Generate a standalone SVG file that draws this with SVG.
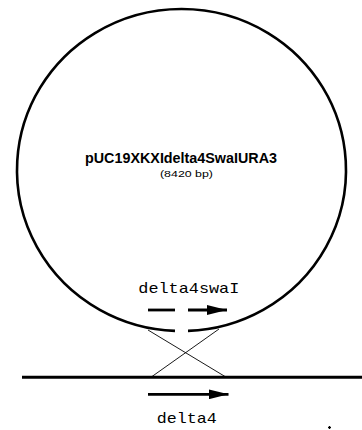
<svg xmlns="http://www.w3.org/2000/svg" width="362" height="430" viewBox="0 0 362 430">
  <style>
    .thick { fill: none; stroke: #000; stroke-width: 2.6; }
    .thin { fill: none; stroke: #000; stroke-width: 0.9; }
    .shaft { fill: none; stroke: #000; stroke-width: 2.8; }
    .mono { font-family: "Liberation Mono", "DejaVu Sans Mono", monospace; font-size: 15px; fill: #000; }
    .sans { font-family: "Liberation Sans", Arial, sans-serif; fill: #000; }
  </style>
  <defs>
    <marker id="head" markerWidth="20" markerHeight="10" refX="20" refY="5" orient="auto" markerUnits="userSpaceOnUse">
      <path d="M0,0 L20,5 L0,10 Z" fill="#000"/>
    </marker>
  </defs>
  <rect width="362" height="430" fill="#fff"/>

  <g id="plasmid">
    <path class="thick" d="M 188 330.9 A 164.5 161 0 1 0 175 330.9"/>
    <text class="sans" x="181" y="163.3" font-size="14" font-weight="bold" text-anchor="middle" textLength="192" lengthAdjust="spacingAndGlyphs">pUC19XKXIdelta4SwaIURA3</text>
    <text class="sans" x="186.5" y="176.7" font-size="9" text-anchor="middle" textLength="53" lengthAdjust="spacingAndGlyphs">(8420 bp)</text>
  </g>

  <g id="delta4swaI">
    <line class="shaft" x1="148" y1="310" x2="175" y2="310"/>
    <line class="shaft" x1="188" y1="310" x2="227" y2="310" marker-end="url(#head)"/>
    <text class="mono" x="138.3" y="292.7" textLength="101" lengthAdjust="spacingAndGlyphs">delta4swaI</text>
  </g>

  <g id="chromosome">
    <line x1="22" y1="377.3" x2="362" y2="377.3" stroke="#000" stroke-width="3"/>
  </g>

  <g id="delta4">
    <line class="shaft" x1="148" y1="394.3" x2="228.5" y2="394.3" marker-end="url(#head)"/>
    <text class="mono" x="156.7" y="423" textLength="60" lengthAdjust="spacingAndGlyphs">delta4</text>
  </g>

  <g id="connectors">
    <line class="thin" x1="148" y1="330" x2="225" y2="376.5"/>
    <line class="thin" x1="152" y1="376.5" x2="219" y2="329"/>
  </g>

  <g id="mark">
    <rect x="328.5" y="426.5" width="2" height="2" fill="#000"/>
    <rect x="328" y="427" width="3" height="1" fill="#000"/>
    <rect x="329" y="426" width="1" height="3" fill="#000"/>
  </g>
</svg>
